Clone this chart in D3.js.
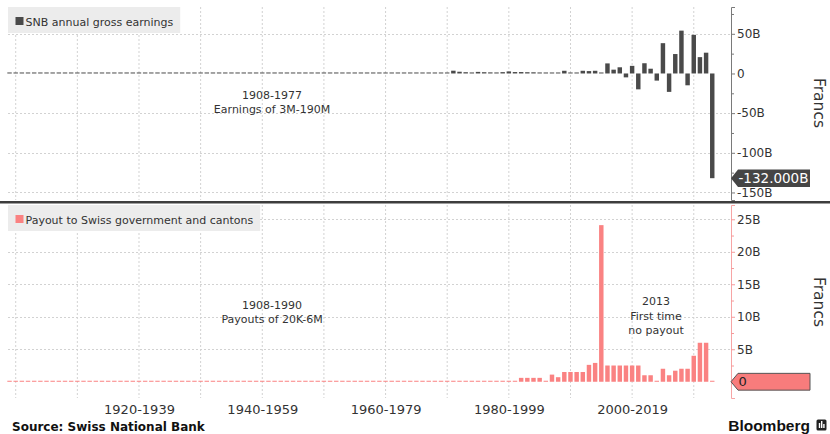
<!DOCTYPE html>
<html><head><meta charset="utf-8">
<script src="https://cdn.jsdelivr.net/npm/d3@7/dist/d3.min.js"></script>
<style>
body{margin:0;background:#fff;}
svg{display:block;font-family:"DejaVu Sans",sans-serif;}
</style></head><body>
<svg id="c" width="830" height="434"></svg>
<script>
// ---------------- DATA ----------------
const firstYear = 1908;
// SNB annual gross earnings, billions of francs
const earlyEarnings = [ // 1908-1977 (3M-190M)
  0.003,0.004,0.004,0.005,0.005,0.006,0.008,0.009,0.010,0.012,0.013,0.014,
  0.013,0.012,0.011,0.012,0.013,0.014,0.014,0.015,0.016,0.017,
  0.016,0.015,0.014,0.013,0.013,0.012,0.014,0.016,0.017,0.019,
  0.021,0.024,0.026,0.028,0.030,0.032,0.034,0.036,0.038,0.040,
  0.042,0.044,0.046,0.048,0.050,0.053,0.055,0.058,0.061,0.064,
  0.068,0.072,0.076,0.080,0.085,0.090,0.096,0.102,0.110,0.118,
  0.126,0.135,0.145,0.155,0.165,0.175,0.185,0.190
];
const recentEarnings = [ // 1978-2022
  0.5,0.8,3.5,2.2,1.6,1.3,2.0,1.6,1.4,1.3,1.7,2.6,1.8,1.8,1.6,1.5,1.3,1.0,1.2,1.2,3.4,1.0,1.2,
  3.4,3.0,3.4,0.3,12.7,4.8,7.8,-4.9,9.6,-20.0,12.9,6.0,-9.0,38.2,-23.2,24.5,54.0,-14.9,48.7,20.6,26.2,-132.0
];
// Payout to Swiss government and cantons, billions of francs
const earlyPayouts = [ // 1908-1990 (20K-6M)
  0.00002,0.00005,0.0001,0.0002,0.0004,0.0006,0.0008,0.001,0.0012,0.0015,0.0018,0.002,
  0.0021,0.0022,0.0022,0.0023,0.0024,0.0024,0.0025,0.0025,0.0025,0.0025,
  0.0025,0.0025,0.0025,0.0025,0.0025,0.0025,0.0025,0.0025,0.0025,0.0025,
  0.0025,0.0025,0.0026,0.0027,0.0028,0.0029,0.003,0.003,0.003,0.003,
  0.003,0.0032,0.0034,0.0036,0.0038,0.004,0.0042,0.0044,0.0046,0.0048,
  0.005,0.005,0.005,0.005,0.0052,0.0054,0.0055,0.0056,0.0057,0.0058,
  0.0058,0.0059,0.006,0.006,0.006,0.006,0.006,0.006,0.006,0.006,
  0.006,0.006,0.006,0.006,0.006,0.006,0.006,0.006,0.006,0.006,
  0.006
];
const recentPayouts = [ // 1991-2022
  0.6,0.6,0.6,0.6,0,1.1,0.7,1.5,1.5,1.5,
  1.5,2.6,2.9,24.1,2.5,2.5,2.5,2.5,2.5,2.5,
  1.0,1.0,0,2.0,1.0,1.7,2.0,2.0,4.0,6.0,6.0,0
];
const topTicks = [50,0,-50,-100,-150];
const topMinor = [75,25,-25,-75,-125];
const botTicks = [0,5,10,15,20,25];
const botMinor = [2.5,7.5,12.5,17.5,22.5];
const decades = [1910,1920,1930,1940,1950,1960,1970,1980,1990,2000,2010,2020];
const periodLabels = ["1920-1939","1940-1959","1960-1979","1980-1999","2000-2019"];
const periodCenters = [1930,1950,1970,1990,2010];
const lastEarningLabel = "-132.000B";
const lastPayoutLabel = "0";

// ---------------- CHART ----------------
const svg = d3.select("#c");
const TOP_COL = "#4a4a4a", PINK = "#fa8282", GRID = "#d2d2d2", TXT = "#333";

const earnings = earlyEarnings.concat(recentEarnings).map((v,i)=>({year:firstYear+i, v}));
const payouts = earlyPayouts.concat(recentPayouts).map((v,i)=>({year:firstYear+i, v}));

const x = d3.scaleTime().domain([new Date(1908,9,1), new Date(2026,0,15)]).range([8,731]);
const yearEnd = y => new Date(y,11,31);
const yearPx = x(new Date(2001,0,1)) - x(new Date(2000,0,1));
const barW = yearPx*0.72;

const yTop = d3.scaleLinear().domain([-159.5,83.8]).range([200,7]);
const yBot = d3.scaleLinear().domain([-2.5,27.2]).range([398,205]);

function panel(y, ticks, y0, y1) {
  const g = svg.append("g");
  g.selectAll("line.vg").data(decades).join("line")
    .attr("x1", d=>x(new Date(d,0,1))).attr("x2", d=>x(new Date(d,0,1)))
    .attr("y1", y0).attr("y2", y1)
    .attr("stroke", GRID).attr("stroke-dasharray","2,2").attr("stroke-width",1);
  g.selectAll("line.hg").data(ticks.filter(t=>t!==0)).join("line")
    .attr("x1", 8).attr("x2", 731)
    .attr("y1", d=>Math.round(y(d))+0.5).attr("y2", d=>Math.round(y(d))+0.5)
    .attr("stroke", GRID).attr("stroke-dasharray","2,2").attr("stroke-width",1);
  return g;
}

function bars(g, data, y, color) {
  const z = y(0);
  g.selectAll("rect.bar").data(data).join("rect")
    .attr("x", d=>x(yearEnd(d.year)) - barW/2)
    .attr("width", barW)
    .attr("y", d=> d.v>=0 ? Math.min(y(d.v), z-1) : z)
    .attr("height", d=> Math.max(Math.abs(y(d.v)-z), 1))
    .attr("fill", color);
}

function legend(yTopPx, h, color, label) {
  const g = svg.append("g");
  const r = g.append("rect").attr("x",8).attr("y",yTopPx).attr("height",h).attr("fill","#ececec");
  g.append("rect").attr("x",15.5).attr("y",yTopPx+10).attr("width",8).attr("height",8).attr("fill",color);
  const t = g.append("text").attr("x",25.5).attr("y",yTopPx+18.5)
    .attr("font-size","11px").attr("fill",TXT).text(label);
  const w = t.node().getComputedTextLength();
  r.attr("width", 25.5 + w + 7 - 8);
}

function flag(cy, hh, fill, stroke, label, txtColor, fs) {
  const g = svg.append("g");
  const x0 = 731, x1 = 738, x2 = 810;
  g.append("path")
    .attr("d", `M${x0},${cy} L${x1},${cy-hh} L${x2},${cy-hh} L${x2},${cy+hh} L${x1},${cy+hh} Z`)
    .attr("fill", fill).attr("stroke", stroke).attr("stroke-width", stroke==="none"?0:1);
  g.append("text").attr("x", 738.5).attr("y", cy + fs*0.36)
    .attr("font-size", fs+"px").attr("fill", txtColor).text(label);
}

function fmt(d){ return d===0 ? "0" : (d<0 ? "-"+Math.abs(d) : d) + "B"; }
// the bottom zero label is shown by the flag instead
function fmtBot(d){ return d===0 ? "" : fmt(d); }

// ---------- top panel ----------
const gT = panel(yTop, topTicks, 7, 200);
bars(gT, earnings, yTop, TOP_COL);
const axT = svg.append("g").attr("transform","translate(731,0)")
  .call(d3.axisRight(yTop).tickValues(topTicks).tickFormat(fmt).tickSize(4).tickPadding(2));
axT.select(".domain").attr("stroke","#7a7a7a");
axT.selectAll(".tick line").attr("stroke","#7a7a7a");
axT.selectAll("text").attr("font-size","12px").attr("fill",TXT).attr("font-family","DejaVu Sans");
const axTm = svg.append("g").attr("transform","translate(731,0)")
  .call(d3.axisRight(yTop).tickValues(topMinor).tickFormat("").tickSize(3));
axTm.select(".domain").remove();
axTm.selectAll(".tick line").attr("stroke","#7a7a7a");

// ---------- bottom panel ----------
const gB = panel(yBot, botTicks, 205, 398);
bars(gB, payouts, yBot, PINK);
const axB = svg.append("g").attr("transform","translate(731,0)")
  .call(d3.axisRight(yBot).tickValues(botTicks).tickFormat(fmtBot).tickSize(4).tickPadding(2));
axB.select(".domain").attr("stroke","#f7a5a5");
axB.selectAll(".tick line").attr("stroke","#f59a9a");
axB.selectAll("text").attr("font-size","12px").attr("fill",TXT).attr("font-family","DejaVu Sans");
const axBm = svg.append("g").attr("transform","translate(731,0)")
  .call(d3.axisRight(yBot).tickValues(botMinor).tickFormat("").tickSize(3));
axBm.select(".domain").remove();
axBm.selectAll(".tick line").attr("stroke","#f59a9a");

// separator
svg.append("line").attr("x1",0).attr("x2",830).attr("y1",202.2).attr("y2",202.2)
  .attr("stroke","#3d3d3d").attr("stroke-width",2.6);

// legends
legend(7, 26, TOP_COL, "SNB annual gross earnings");
legend(205, 26, PINK, "Payout to Swiss government and cantons");

// value flags
flag(yTop(earnings[earnings.length-1].v), 8.7, "#454545", "none", lastEarningLabel, "#fff", 13.5);
flag(yBot(payouts[payouts.length-1].v), 8.4, "#f87c7c", "#555", lastPayoutLabel, "#222", 13);

// x axis labels
const xa = svg.append("g").attr("transform","translate(0,398)")
  .call(d3.axisBottom(x).tickValues(periodCenters.map(d=>new Date(d,0,1)))
    .tickFormat((d,i)=>periodLabels[i]).tickSize(0).tickPadding(7));
xa.select(".domain").remove();
xa.selectAll("text").attr("font-size","13px").attr("fill",TXT).attr("font-family","DejaVu Sans");

// "Francs" axis titles
[103, 302].forEach(cy=>{
  svg.append("text").attr("transform",`translate(814,${cy}) rotate(90)`)
    .attr("text-anchor","middle").attr("font-size","15.5px").attr("fill",TXT).text("Francs");
});

// annotations
function note(cx, ys, lines){
  lines.forEach((l,i)=> svg.append("text").attr("x",cx).attr("y",ys[i])
    .attr("text-anchor","middle").attr("font-size","11px").attr("fill",TXT).text(l));
}
note(272, [99,113], ["1908-1977","Earnings of 3M-190M"]);
note(272, [309,323], ["1908-1990","Payouts of 20K-6M"]);
note(656, [305,319.5,334], ["2013","First time","no payout"]);

// footer
svg.append("text").attr("x",12).attr("y",431).attr("font-size","12px").attr("font-weight","bold")
  .attr("fill","#111").text("Source: Swiss National Bank");
svg.append("text").attr("x",810).attr("y",431).attr("text-anchor","end")
  .attr("font-family","'Liberation Sans',Arial,sans-serif").attr("font-size","15.5px").attr("font-weight","bold")
  .attr("fill","#111").text("Bloomberg");
const logo = svg.append("g");
logo.append("rect").attr("x",816.5).attr("y",419.5).attr("width",10).attr("height",11).attr("rx",1.5).attr("fill","#222");
[[818.8,5],[821,7],[823.2,4]].forEach(([bx,bh])=>
  logo.append("rect").attr("x",bx).attr("y",428-bh).attr("width",1.4).attr("height",bh).attr("fill","#fff"));
</script>
</body></html>
